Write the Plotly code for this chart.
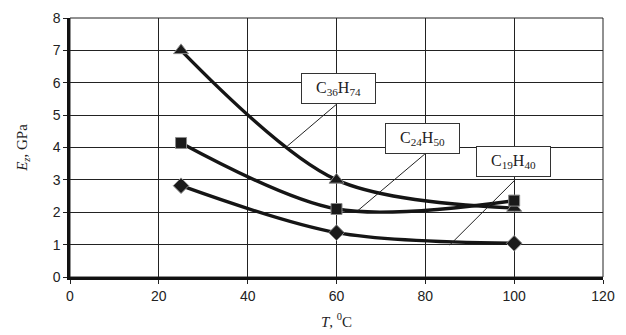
import plotly.graph_objects as go

T = [25, 60, 100]
c36h74 = [7.0, 3.0, 2.13]
c24h50 = [4.14, 2.1, 2.36]
c19h40 = [2.82, 1.37, 1.04]

labels = ["C<sub>36</sub>H<sub>74</sub>", "C<sub>24</sub>H<sub>50</sub>", "C<sub>19</sub>H<sub>40</sub>"]
label_pos = [(60.4, 5.83), (79.4, 4.27), (99.8, 3.56)]
leaders = [((60.3, 5.37), (48.9, 4.04)), ((79.9, 3.8), (64.8, 2.05)), ((100.2, 3.0), (85.5, 0.99))]

fig = go.Figure()
series = [(c36h74, "triangle-up", 13), (c24h50, "square", 11), (c19h40, "diamond", 12)]
for ys, sym, sz in series:
    fig.add_trace(go.Scatter(
        x=T, y=ys, mode="lines+markers",
        line=dict(color="#151515", width=3.4, shape="spline", smoothing=0.9),
        marker=dict(symbol=sym, size=sz, color="#1a1a1a", line=dict(color="#8a8a8a", width=1)),
        showlegend=False))

for (x0, y0), (x1, y1) in leaders:
    fig.add_shape(type="line", x0=x0, y0=y0, x1=x1, y1=y1, xref="x", yref="y",
                  line=dict(color="#222", width=1))

for txt, (x, y) in zip(labels, label_pos):
    fig.add_annotation(x=x, y=y, xref="x", yref="y", text=txt, showarrow=False,
                       font=dict(family="Liberation Serif", size=16, color="#222"),
                       bgcolor="white", bordercolor="#333", borderwidth=1,
                       width=71, height=27, borderpad=1)

fig.update_layout(
    width=626, height=335,
    margin=dict(l=70, r=23, t=18, b=58),
    paper_bgcolor="white", plot_bgcolor="white",
    font=dict(family="Liberation Sans", size=14, color="#222"),
)
fig.update_xaxes(range=[0, 120], dtick=20, tick0=0, showgrid=True, gridcolor="#222", gridwidth=1,
                 ticks="outside", ticklen=4, tickcolor="#222", zeroline=False, automargin=False,
                 showline=True, linecolor="#111", linewidth=2.5, mirror=False,
                 title=dict(text="<i>T</i>, <sup>0</sup>C", font=dict(family="Liberation Serif", size=15), standoff=14))
fig.update_yaxes(range=[0, 8], dtick=1, tick0=0, showgrid=True, gridcolor="#222", gridwidth=1,
                 ticks="outside", ticklen=4, tickcolor="#222", zeroline=False, automargin=False,
                 showline=True, linecolor="#111", linewidth=2.5, mirror=False,
                 title=dict(text="<i>E</i><sub><i>z</i></sub>, GPa", font=dict(family="Liberation Serif", size=15), standoff=22))
fig.add_shape(type="rect", xref="paper", yref="paper", x0=0, y0=0, x1=1, y1=1,
              line=dict(color="#222", width=1), layer="below")

fig.write_html("out.html", config={"displayModeBar": False},
               post_script="document.body.style.margin='0';")
